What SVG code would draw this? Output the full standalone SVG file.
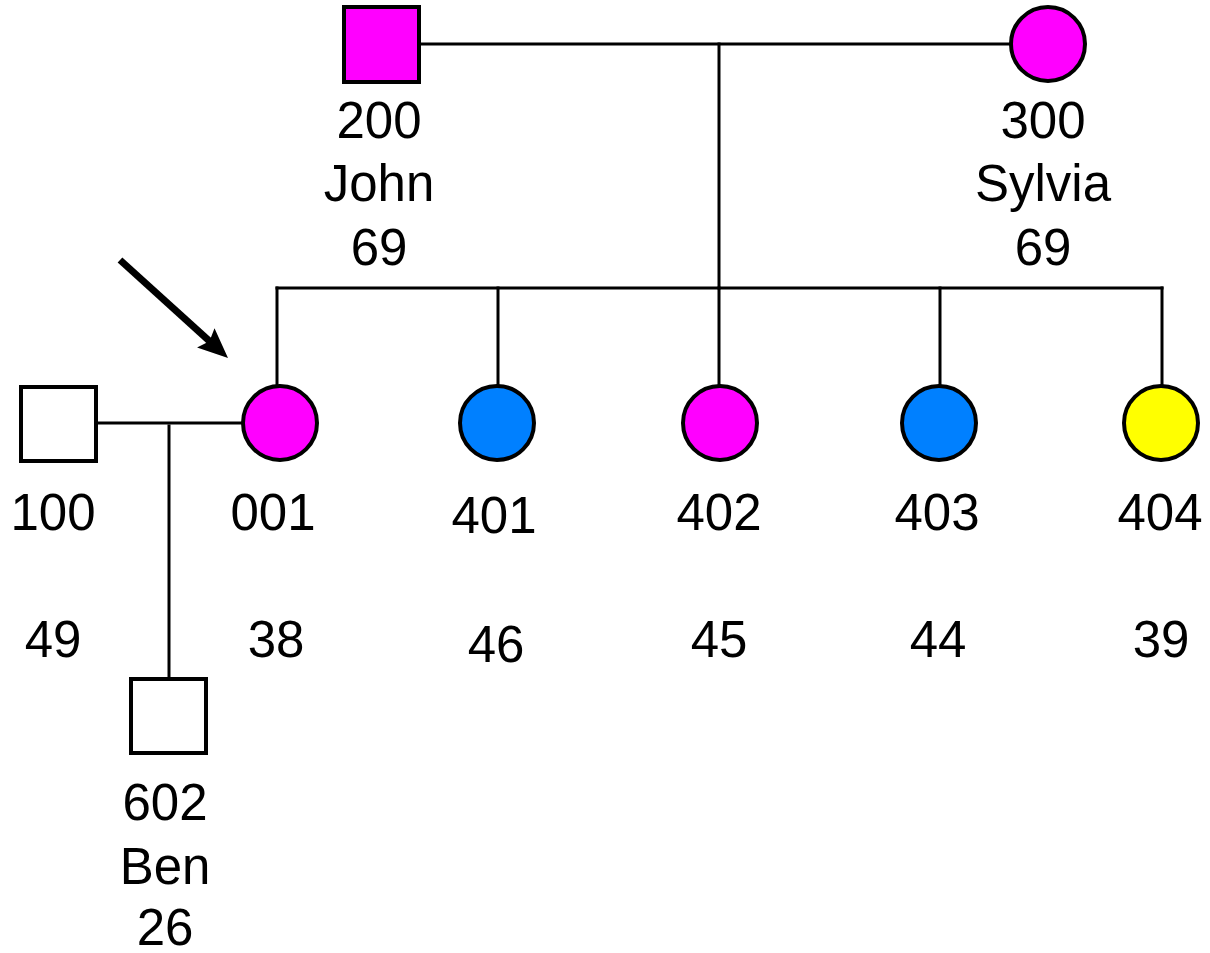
<svg xmlns="http://www.w3.org/2000/svg" width="1210" height="953" viewBox="0 0 1210 953">
  <style>
    .shape { stroke: #000; stroke-width: 4; }
    .female-a { fill: #ff00ff; }
    .female-b { fill: #0080ff; }
    .female-c { fill: #ffff00; }
    .male-affected { fill: #ff00ff; }
    .unaffected { fill: #ffffff; }
    .link { stroke: #000; stroke-width: 3; fill: none; stroke-linecap: square; }
    .label { font-family: "Liberation Sans", Arial, sans-serif; font-size: 51px; fill: #000; text-anchor: middle; }
  </style>
  <defs>
    <marker id="proband-head" markerUnits="userSpaceOnUse" markerWidth="34" markerHeight="30" refX="8" refY="13" orient="auto">
      <path d="M0,0 L30,13 L0,26 L5,13 z" fill="#000"/>
    </marker>
  </defs>

  <!-- relationship and descent lines -->
  <g id="connectors">
    <line class="link" x1="419" y1="44" x2="1010" y2="44"/>
    <line class="link" x1="719" y1="44" x2="719" y2="288"/>
    <line class="link" x1="277" y1="288" x2="1162" y2="288"/>
    <line class="link" x1="277" y1="288" x2="277" y2="385"/>
    <line class="link" x1="498" y1="288" x2="498" y2="385"/>
    <line class="link" x1="719" y1="288" x2="719" y2="385"/>
    <line class="link" x1="940" y1="288" x2="940" y2="385"/>
    <line class="link" x1="1162" y1="288" x2="1162" y2="385"/>
    <line class="link" x1="97" y1="423" x2="242" y2="423"/>
    <line class="link" x1="169" y1="426" x2="169" y2="677"/>
    <!-- proband arrow: shaft ends 22px short of the tip at (228,358) -->
    <line x1="120" y1="260" x2="211.7" y2="343.2" stroke="#000" stroke-width="7" marker-end="url(#proband-head)"/>
  </g>

  <g id="node-200">
    <rect class="shape male-affected" x="344" y="7" width="75" height="75"/>
    <text class="label" x="379" y="138">200</text>
    <text class="label" x="379" y="201">John</text>
    <text class="label" x="379" y="265">69</text>
  </g>

  <g id="node-300">
    <circle class="shape female-a" cx="1048" cy="44" r="37"/>
    <text class="label" x="1043" y="138">300</text>
    <text class="label" x="1043" y="201">Sylvia</text>
    <text class="label" x="1043" y="265">69</text>
  </g>

  <g id="node-100">
    <rect class="shape unaffected" x="21" y="387" width="75" height="74"/>
    <text class="label" x="53" y="530">100</text>
    <text class="label" x="53" y="657">49</text>
  </g>

  <g id="node-001">
    <circle class="shape female-a" cx="280" cy="423" r="37"/>
    <text class="label" x="273" y="530">001</text>
    <text class="label" x="276" y="657">38</text>
  </g>

  <g id="node-401">
    <circle class="shape female-b" cx="497" cy="423" r="37"/>
    <text class="label" x="494" y="533">401</text>
    <text class="label" x="496" y="662">46</text>
  </g>

  <g id="node-402">
    <circle class="shape female-a" cx="720" cy="423" r="37"/>
    <text class="label" x="719" y="530">402</text>
    <text class="label" x="719" y="657">45</text>
  </g>

  <g id="node-403">
    <circle class="shape female-b" cx="939" cy="423" r="37"/>
    <text class="label" x="937" y="530">403</text>
    <text class="label" x="938" y="657">44</text>
  </g>

  <g id="node-404">
    <circle class="shape female-c" cx="1161" cy="423" r="37"/>
    <text class="label" x="1160" y="530">404</text>
    <text class="label" x="1161" y="657">39</text>
  </g>

  <g id="node-602">
    <rect class="shape unaffected" x="131" y="679" width="75" height="74"/>
    <text class="label" x="165" y="820">602</text>
    <text class="label" x="165" y="884">Ben</text>
    <text class="label" x="165" y="945">26</text>
  </g>
</svg>
